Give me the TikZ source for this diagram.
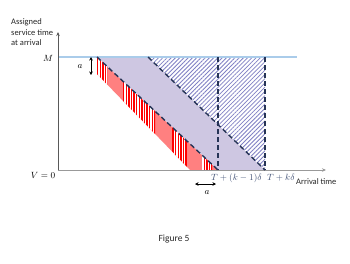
\documentclass[tikz,border=0pt]{standalone}
\usepackage{fontspec}
\usepackage{tikz}
\usetikzlibrary{arrows.meta,positioning,patterns.meta}
\newfontfamily\calib{Carlito}
\definecolor{mblue}{RGB}{170,204,234}
\definecolor{navy}{RGB}{38,52,86}
\definecolor{lav}{RGB}{206,199,226}
\definecolor{hatchc}{RGB}{128,128,196}
\definecolor{redsolid}{RGB}{255,128,128}
\definecolor{slate}{RGB}{68,84,120}

\begin{document}
\begin{tikzpicture}[
  x=1pt, y=-1pt,
  >=Stealth,
  axis/.style={->, line width=0.8pt, >={Stealth[length=4pt,width=3.5pt]}},
  mline/.style={line width=1.1pt, draw=mblue},
  dashline/.style={dash pattern=on 5pt off 3pt, line width=1.4pt, draw=navy},
  stripe/.style={line width=1.3pt, draw=red},
  lbl/.style={font=\calib\fontsize{8.5}{10.5}\selectfont, text=black!85, align=left, inner sep=0pt},
  mlbl/.style={font=\fontsize{9.5}{11}\selectfont, inner sep=0pt},
  gap/.style={<->, line width=0.8pt, >={Stealth[length=3.5pt,width=3.5pt]}}
]
  \useasboundingbox (0,0) rectangle (350,263);

  % Key points
  \coordinate (O) at (58,170);
  \coordinate (ytop) at (58,32);
  \coordinate (xend) at (326,170);
  \coordinate (m0) at (58,57);
  \coordinate (mend) at (297,57);
  \coordinate (d1a) at (97,57);
  \coordinate (d1b) at (218,170);
  \coordinate (d2a) at (148,57);
  \coordinate (d2b) at (265,170);
  \coordinate (v1a) at (218,57);
  \coordinate (v2a) at (265,57);
  \coordinate (r1) at (190,170);
  \coordinate (r2) at (97,74);

  % Regions
  \fill[lav] (d1a) -- (d2a) -- (d2b) -- (d1b) -- cycle;
  \fill[white] (d2a) -- (v2a) -- (d2b) -- cycle;
  \fill[pattern={Lines[angle=45,distance=3pt,line width=0.8pt]}, pattern color=hatchc]
    (d2a) -- (v2a) -- (d2b) -- cycle;

  % Red band
  \begin{scope}
    \clip (d1a) -- (d1b) -- (r1) -- (r2) -- cycle;
    \fill[redsolid] (d1a) -- (d1b) -- (r1) -- (r2) -- cycle;
    \foreach \xa/\xb in {97/107,123/155,172/187,202/212}{
      \begin{scope}
        \clip (\xa,50) rectangle (\xb,175);
        \fill[white] (\xa,50) rectangle (\xb,175);
        \foreach \x in {97.7,100.3,...,214}{\draw[stripe] (\x,50) -- (\x,175);}
      \end{scope}
    }
  \end{scope}

  % Axes
  \draw[mline] (m0) -- (mend);
  \draw[axis, draw=black!40] (O) -- (xend);
  \draw[axis, draw=black!65] (O) -- (ytop);

  % Dashed lines
  \draw[dashline] (d1a) -- (d1b);
  \draw[dashline] (d2a) -- (d2b);
  \draw[dashline] (v1a) -- (d1b);
  \draw[dashline] (v2a) -- (d2b);

  % Labels
  \node[lbl, anchor=west] (ylab) at (11,32.5) {Assigned\\service time\\at arrival};
  \node[mlbl] (Mlab) at (48,58) {$M$};
  \node[mlbl] (V0) at (43,175) {$V=0$};
  \node[mlbl, text=slate, anchor=west] (Tk1) at (211,178) {$T+(k-1)\delta$};
  \node[mlbl, text=slate, anchor=west] (Tk) at (267,178) {$T+k\delta$};
  \node[lbl, anchor=west] (xlab) at (296,182) {Arrival time};
  \node[mlbl] (aV) at (80,67) {$a$};
  \node[mlbl] (aH) at (207,193) {$a$};
  \node[lbl, font=\calib\fontsize{9.5}{11}\selectfont] (cap) at (174,239) {Figure 5};

  % Gap arrows
  \coordinate (gv1) at (91,57);
  \coordinate (gv2) at (91,75);
  \coordinate (gh1) at (195,184);
  \coordinate (gh2) at (216,184);
  \draw[gap] (gv1) -- (gv2);
  \draw[gap] (gh1) -- (gh2);

\end{tikzpicture}
\end{document}
